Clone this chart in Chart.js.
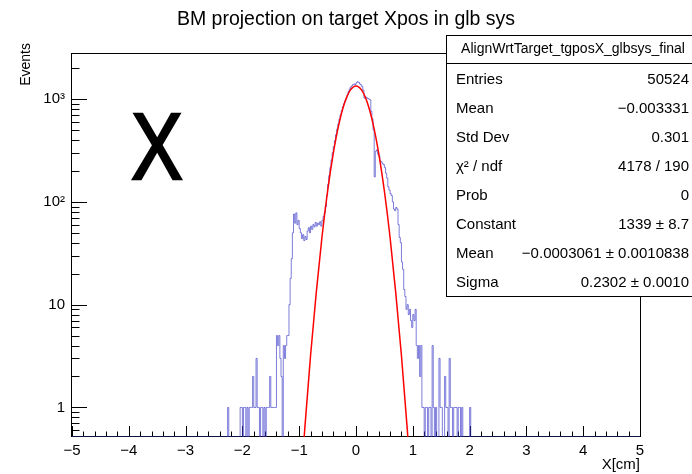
<!DOCTYPE html>
<html>
<head>
<meta charset="utf-8">
<script src="https://cdn.jsdelivr.net/npm/chart.js@4.4.0/dist/chart.umd.min.js"></script>
<style>
  html, body { margin: 0; padding: 0; background: #fff; }
</style>
</head>
<body>
<canvas id="histChart" width="692" height="474"></canvas>
<script>
// Histogram: 0.02 wide bins, first bin starts at -2.26 (all other bins empty)
const binStart = -2.26;
const binWidth = 0.02;
const counts = [
  1, 0, 0, 0, 0, 0, 0, 0, 0, 0,
  0, 1, 1, 0, 1, 1, 0, 1, 0, 1,
  1, 1, 2, 1, 1, 3, 1, 1, 0, 1,
  1, 0, 1, 0, 1, 1, 1, 2, 1, 1,
  1, 1, 1, 5, 4, 5, 3, 2, 0, 4,
  3, 4, 5, 5,
  // -1.18 .. -0.50
  10, 18, 28, 50, 76, 62, 78, 60, 66, 55,
  50, 44, 48, 42, 46, 43, 52, 56, 50, 58,
  54, 60, 57, 63, 58, 62, 60, 64, 58, 66,
  72, 78, 90, 115, 148,
  // -0.48 .. 0.10
  180, 215, 255, 300, 345, 395, 450, 510, 570, 635,
  700, 770, 840, 900, 960, 1010, 1090, 1180, 1250, 1310,
  1340, 1380, 1400, 1380, 1440, 1470, 1450, 1400, 1370, 1320,
  // 0.12 .. 0.80
  1220, 1020, 1050, 1030, 1010, 1000, 980, 760, 640, 500,
  175, 310, 320, 290, 280, 250, 245, 235, 230, 215,
  190, 170, 140, 130, 120, 115, 100, 85, 82, 88,
  85, 60, 45, 40, 26,
  // 0.82 .. 2.02
  22, 14, 12, 9, 10, 8, 9, 7, 6, 8,
  7, 9, 4, 3, 4, 2, 4, 1, 1, 0,
  1, 1, 0, 1, 1, 0, 4, 1, 0, 1,
  0, 0, 3, 1, 1, 0, 0, 2, 1, 1,
  0, 3, 1, 1, 0, 1, 1, 1, 0, 1,
  1, 0, 1, 0, 0, 0, 0, 0, 0, 1,
  0
];

// gaussian fit curve
const fitX = [-0.95, -0.9, -0.8, -0.7, -0.6, -0.5, -0.4, -0.3, -0.2, -0.1, 0,
              0.1, 0.2, 0.3, 0.4, 0.5, 0.6, 0.7, 0.8, 0.9, 0.95];
const fitY = [0.27, 0.64, 3.2, 13, 45, 127, 296, 573, 918, 1218, 1339,
              1218, 918, 573, 296, 127, 45, 13, 3.2, 0.64, 0.27];

const xRange = [-5, 5];
const yRange = [0.516, 2800];
const xTickValues = [-5, -4, -3, -2, -1, 0, 1, 2, 3, 4, 5];
const yTickValues = [1, 10, 100, 1000];
const yTickLabels = ['1', '10', '10\u00b2', '10\u00b3'];

const titleText = 'BM projection on target Xpos in glb sys';
const xTitle = 'X[cm]';
const yTitle = 'Events';
const bigLabel = 'X';
const statsTitle = 'AlignWrtTarget_tgposX_glbsys_final';
const statsNames = ['Entries', 'Mean', 'Std Dev', '\u03c7\u00b2 / ndf', 'Prob', 'Constant', 'Mean', 'Sigma'];
const statsValues = ['50524', '\u22120.003331', '0.301', '4178 / 190', '0', '1339 \u00b1 8.7',
                     '\u22120.0003061 \u00b1 0.0010838', '0.2302 \u00b1 0.0010'];

const FONT = "'Liberation Sans', Arial, Helvetica, sans-serif";

// build step points, empty bins sit on the axis minimum
const histPoints = [{ x: xRange[0], y: yRange[0] }];
counts.forEach((c, i) => {
  histPoints.push({ x: binStart + i * binWidth, y: c > 0 ? c : yRange[0] });
});
histPoints.push({ x: binStart + counts.length * binWidth, y: yRange[0] });
histPoints.push({ x: xRange[1], y: yRange[0] });

const fitPoints = fitX.map((x, i) => ({ x: x, y: fitY[i] }));

function fmtNum(v) {
  return v < 0 ? '\u2212' + Math.abs(v) : String(v);
}

// ROOT-like frame, inward ticks, stats box and texts
const rootDecor = {
  id: 'rootDecor',
  beforeDatasetsDraw(chart) {
    const ctx = chart.ctx;
    const a = chart.chartArea;
    const xs = chart.scales.x, ys = chart.scales.y;
    ctx.save();
    ctx.strokeStyle = '#000';
    ctx.lineWidth = 1;
    ctx.strokeRect(Math.round(a.left) - 0.5, Math.round(a.top) + 0.5,
                   Math.round(a.right - a.left) + 1, Math.round(a.bottom - a.top) - 1);
    ctx.beginPath();
    // x ticks: major every 1, minor every 0.2
    for (let k = 0; k <= 50; k++) {
      const v = xRange[0] + k * 0.2;
      const px = Math.round(xs.getPixelForValue(v)) + 0.5;
      const len = (k % 5 === 0) ? 11 : 5.5;
      ctx.moveTo(px, a.bottom);
      ctx.lineTo(px, a.bottom - len);
    }
    // y ticks: decades major, 2..9 minor
    [0.1, 1, 10, 100, 1000].forEach(d => {
      for (let m = 1; m <= 9; m++) {
        const v = m * d;
        if (v < yRange[0] || v > yRange[1]) continue;
        const py = Math.round(ys.getPixelForValue(v)) + 0.5;
        const len = (m === 1) ? 15 : 7.5;
        ctx.moveTo(a.left, py);
        ctx.lineTo(a.left + len, py);
      }
    });
    ctx.stroke();
    ctx.restore();
  },
  afterDraw(chart) {
    const ctx = chart.ctx;
    const a = chart.chartArea;
    ctx.save();
    ctx.fillStyle = '#000';

    // title
    ctx.font = '19.5px ' + FONT;
    ctx.textAlign = 'center';
    ctx.textBaseline = 'middle';
    ctx.fillText(titleText, 346, 20);

    // big X
    ctx.save();
    ctx.translate(157, 149);
    ctx.scale(0.82, 1);
    ctx.font = '94px ' + FONT;
    ctx.textAlign = 'center';
    ctx.textBaseline = 'middle';
    ctx.lineWidth = 2.5;
    ctx.strokeStyle = '#000';
    ctx.fillText(bigLabel, 0, 4);
    ctx.strokeText(bigLabel, 0, 4);
    ctx.restore();

    // axis titles
    ctx.font = '15px ' + FONT;
    ctx.textAlign = 'right';
    ctx.textBaseline = 'middle';
    ctx.fillText(xTitle, a.right, 465);

    ctx.save();
    ctx.translate(26, 43);
    ctx.rotate(-Math.PI / 2);
    ctx.font = '14px ' + FONT;
    ctx.textAlign = 'right';
    ctx.textBaseline = 'middle';
    ctx.fillText(yTitle, 0, 0);
    ctx.restore();

    // stats box
    const bx = 446.5, by = 35.5, bw = 260, bh = 261;
    ctx.fillStyle = '#fff';
    ctx.fillRect(bx, by, bw, bh);
    ctx.strokeStyle = '#000';
    ctx.lineWidth = 1;
    ctx.strokeRect(bx, by, bw, bh);
    ctx.beginPath();
    ctx.moveTo(bx, 63.5);
    ctx.lineTo(bx + bw, 63.5);
    ctx.stroke();

    ctx.fillStyle = '#000';
    ctx.font = '14px ' + FONT;
    ctx.textAlign = 'center';
    ctx.fillText(statsTitle, 573, 49);
    ctx.font = '15px ' + FONT;
    statsNames.forEach((name, i) => {
      const y = 79.5 + i * 29;
      ctx.textAlign = 'left';
      ctx.fillText(name, 456, y);
      ctx.textAlign = 'right';
      ctx.fillText(statsValues[i], 689, y);
    });
    ctx.restore();
  }
};

new Chart(document.getElementById('histChart'), {
  type: 'line',
  data: {
    datasets: [
      {
        label: 'hist',
        data: histPoints,
        borderColor: 'rgba(55, 55, 200, 0.65)',
        borderWidth: 1,
        pointRadius: 0,
        stepped: 'before',
        fill: false,
        order: 1
      },
      {
        label: 'fit',
        data: fitPoints,
        borderColor: '#ff0000',
        borderWidth: 1.5,
        pointRadius: 0,
        cubicInterpolationMode: 'monotone',
        fill: false,
        order: 0
      }
    ]
  },
  options: {
    responsive: false,
    devicePixelRatio: 1,
    animation: false,
    events: [],
    layout: { padding: { top: 53, right: 52, left: 0, bottom: 0 } },
    plugins: {
      legend: { display: false },
      tooltip: { enabled: false }
    },
    scales: {
      x: {
        type: 'linear',
        min: xRange[0],
        max: xRange[1],
        afterFit: s => { s.height = 37; },
        afterBuildTicks: s => { s.ticks = xTickValues.map(v => ({ value: v })); },
        grid: { display: false, drawTicks: false },
        border: { display: false },
        ticks: {
          padding: 5,
          autoSkip: false,
          maxRotation: 0,
          color: '#000',
          font: { family: FONT, size: 15 },
          callback: v => fmtNum(v)
        }
      },
      y: {
        type: 'logarithmic',
        min: yRange[0],
        max: yRange[1],
        afterFit: s => { s.width = 72; },
        afterBuildTicks: s => { s.ticks = yTickValues.map(v => ({ value: v })); },
        grid: { display: false, drawTicks: false },
        border: { display: false },
        ticks: {
          padding: 7,
          autoSkip: false,
          color: '#000',
          font: { family: FONT, size: 15 },
          callback: (v, i) => yTickLabels[i]
        }
      }
    }
  },
  plugins: [rootDecor]
});
</script>
</body>
</html>
